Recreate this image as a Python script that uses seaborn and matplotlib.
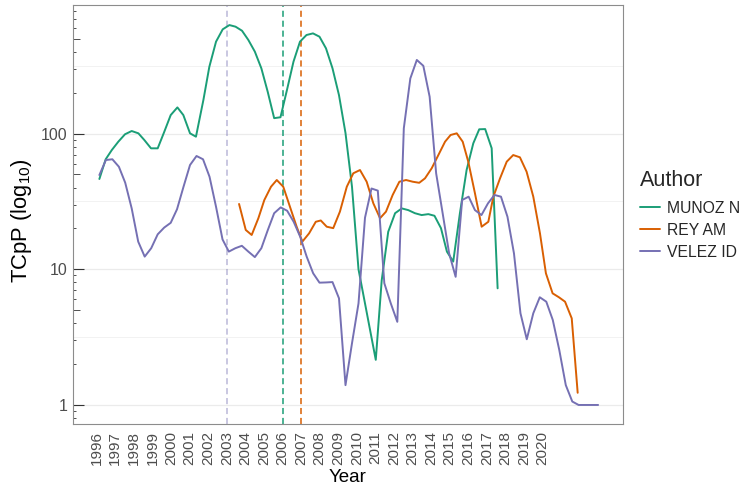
import numpy as np
import pandas as pd
import matplotlib
matplotlib.use("Agg")
import matplotlib.pyplot as plt
import seaborn as sns

# ---------------- data ----------------
authors = ["MUNOZ N", "REY AM", "VELEZ ID"]
colors = ["#1B9E77", "#D95F02", "#7570B3"]

munoz_years = [1996.14, 1996.48, 1996.81, 1997.16, 1997.52, 1997.88, 1998.24, 1998.56, 1998.92, 1999.28,
               1999.62, 1999.98, 2000.34, 2000.66, 2001.02, 2001.34, 2001.74, 2002.06, 2002.42, 2002.78,
               2003.14, 2003.47, 2003.82, 2004.16, 2004.51, 2004.86, 2005.20, 2005.55, 2005.89, 2006.24,
               2006.59, 2006.94, 2007.29, 2007.64, 2007.99, 2008.34, 2008.69, 2009.04, 2009.39, 2009.74,
               2010.09, 2011.02, 2011.34, 2011.69, 2012.06, 2012.42, 2012.77, 2013.13, 2013.49, 2013.85,
               2014.18, 2014.53, 2014.85, 2015.19, 2015.55, 2015.91, 2016.27, 2016.59, 2016.91, 2017.26,
               2017.58]
munoz_tcpp = [46.3, 64.7, 75.7, 87.2, 98.9, 104.5, 100.5, 89.7, 77.9, 77.9,
              102, 137, 156, 137, 100.5, 94.9, 177, 311, 476, 587,
              631, 614, 573, 490, 402, 303, 204, 130, 132, 210,
              339, 476, 533, 548, 518, 425, 303, 192, 101, 40.6,
              10.0, 2.15, 8.3, 18.9, 25.9, 28.1, 27.3, 25.9, 25.1, 25.5,
              24.8, 20.1, 13.5, 11.4, 25.9, 53.9, 84.8, 107.6, 108, 78,
              7.24]

rey_years = [2003.66, 2004.02, 2004.34, 2004.70, 2005.02, 2005.38, 2005.69, 2006.04, 2006.40, 2006.76,
             2007.07, 2007.43, 2007.79, 2008.06, 2008.38, 2008.73, 2009.09, 2009.46, 2009.81, 2010.17,
             2010.53, 2010.89, 2011.25, 2011.57, 2011.93, 2012.29, 2012.65, 2013.01, 2013.36, 2013.67,
             2014.03, 2014.39, 2014.75, 2015.05, 2015.38, 2015.70, 2016.00, 2016.36, 2016.72, 2017.08,
             2017.35, 2017.71, 2018.07, 2018.42, 2018.78, 2019.14, 2019.50, 2019.86, 2020.18, 2020.54,
             2020.88, 2021.21, 2021.57, 2021.89]
rey_tcpp = [30.3, 19.5, 17.9, 23.8, 32.4, 40.6, 45.5, 40.6, 28.9, 20.6,
            16.0, 18.4, 22.4, 22.9, 20.6, 20.1, 26.6, 40.6, 51, 53.9,
            44.2, 30.6, 23.8, 26.6, 35.3, 44.2, 45.5, 44.2, 43.4, 46.8,
            55.5, 69.5, 87.2, 97.7, 100.5, 87.2, 62.1, 36.3, 20.6, 22.4,
            34.3, 46.8, 62.1, 69.5, 66.9, 52.4, 34.3, 18.4, 9.34, 6.65,
            6.22, 5.77, 4.35, 1.23]

velez_years = [1996.14, 1996.49, 1996.84, 1997.19, 1997.53, 1997.88, 1998.23, 1998.58, 1998.93, 1999.28,
               1999.63, 1999.98, 2000.32, 2000.67, 2001.02, 2001.37, 2001.72, 2002.07, 2002.42, 2002.77,
               2003.11, 2003.46, 2003.81, 2004.16, 2004.51, 2004.86, 2005.21, 2005.55, 2005.90, 2006.25,
               2006.60, 2006.95, 2007.30, 2007.65, 2007.99, 2008.34, 2008.69, 2009.04, 2009.39, 2009.74,
               2010.09, 2010.44, 2010.79, 2011.13, 2011.48, 2011.83, 2012.18, 2012.53, 2012.88, 2013.23,
               2013.58, 2013.92, 2014.27, 2014.62, 2014.97, 2015.32, 2015.67, 2016.02, 2016.36, 2016.71,
               2017.06, 2017.41, 2017.76, 2018.11, 2018.46, 2018.81, 2019.15, 2019.50, 2019.85, 2020.20,
               2020.55, 2020.90, 2021.25, 2021.60, 2021.94, 2022.29, 2022.64, 2022.99]
velez_tcpp = [49.5, 63.9, 64.7, 57, 43.5, 28.1, 16.0, 12.4, 14.3, 18.1,
              20.3, 22.0, 27.7, 40.6, 58.7, 68.4, 64.7, 48.1, 28.9, 16.6,
              13.5, 14.3, 14.9, 13.5, 12.3, 14.3, 19.5, 25.9, 28.6, 27.0,
              22.4, 17.4, 12.4, 9.34, 7.97, 8.0, 8.05, 6.11, 1.40, 2.85,
              5.6, 24, 39.4, 38, 7.9, 5.6, 4.1, 109.5, 255, 349,
              316, 187, 51, 25.9, 13.1, 8.8, 32.4, 34.3, 27.3, 25.1,
              30.6, 35.3, 34.3, 24.4, 13.1, 4.74, 3.05, 4.74, 6.22, 5.77,
              4.23, 2.54, 1.40, 1.06, 1.0, 1.0, 1.0, 1.0]

# first-year markers (dashed vertical lines)
marker_authors = ["VELEZ ID", "MUNOZ N", "REY AM"]
marker_years = [2003, 2006, 2007]

year_ticks = list(range(1996, 2021))
y_ticks = [1, 10, 100]

# ---------------- build table ----------------
df = pd.concat([
    pd.DataFrame({"Year": munoz_years, "TCpP": munoz_tcpp, "Author": "MUNOZ N"}),
    pd.DataFrame({"Year": rey_years, "TCpP": rey_tcpp, "Author": "REY AM"}),
    pd.DataFrame({"Year": velez_years, "TCpP": velez_tcpp, "Author": "VELEZ ID"}),
], ignore_index=True)

sns.set_theme(style="white")
plt.rcParams["font.family"] = ["Liberation Sans", "DejaVu Sans"]
plt.rcParams["mathtext.fontset"] = "custom"
plt.rcParams["mathtext.rm"] = "Liberation Sans"
plt.rcParams["mathtext.it"] = "Liberation Sans:italic"
plt.rcParams["mathtext.default"] = "regular"

fig = plt.figure(figsize=(7.45, 4.88), dpi=100)
ax = fig.add_axes([73 / 745, 1 - 424 / 488, 550 / 745, 419 / 488])
ax.set_yscale("log")

# grid lines (major and half-decade minor, horizontal only)
for v in y_ticks:
    ax.axhline(v, color="#EBEBEB", lw=0.9, zorder=0)
for v in [10 ** 0.5, 10 ** 1.5, 10 ** 2.5]:
    ax.axhline(v, color="#F0F0F0", lw=0.6, zorder=0)

pal = dict(zip(authors, colors))
light = {"VELEZ ID": 0.5, "MUNOZ N": 1.0, "REY AM": 1.0}
for a, yr in zip(marker_authors, marker_years):
    ax.axvline(yr, color=pal[a], alpha=light[a], ls=(0, (4, 2.5)), lw=1.1, zorder=1)

sns.lineplot(data=df, x="Year", y="TCpP", hue="Author", hue_order=authors,
             palette=colors, estimator=None, sort=False, lw=1.4, ax=ax, zorder=3)

ax.set_xlim(1994.72, 2024.33)
ax.set_ylim(0.724, 887)

ax.set_xticks(year_ticks)
ax.set_xticklabels([str(y) for y in year_ticks], rotation=90, fontsize=11, color="#4D4D4D")
ax.set_yticks(y_ticks)
ax.set_yticklabels([str(v) for v in y_ticks], fontsize=11.5, color="#4D4D4D")
ax.set_yticks([0.8, 0.9, 2, 3, 4, 6, 7, 8, 9, 20, 30, 40, 60, 70, 80, 90,
               200, 300, 400, 600, 700, 800], minor=True)
ax.tick_params(axis="x", which="major", direction="out", length=3, width=0.8,
               color="#333333", pad=2)
ax.tick_params(axis="y", which="major", direction="out", length=2.2, width=0.8,
               color="#333333", pad=2)
ax.tick_params(axis="y", which="minor", direction="in", length=2.5, width=0.6,
               color="#333333", left=True, labelleft=False)

# long / medium inner log ticks
sec = ax.secondary_yaxis("left")
sec.set_yticks(y_ticks)
sec.set_yticks([5, 50, 500], minor=True)
sec.tick_params(which="major", direction="in", length=8, width=0.8, color="#333333", labelleft=False)
sec.tick_params(which="minor", direction="in", length=5, width=0.6, color="#333333", labelleft=False)
sec.spines["left"].set_visible(False)

for s in ax.spines.values():
    s.set_color("#8C8C8C")
    s.set_linewidth(0.8)

ax.set_xlabel("Year", fontsize=13.5, color="black", labelpad=3)
ax.set_ylabel("TCpP (log$_{10}$)", fontsize=15.8, color="black")
ax.yaxis.set_label_coords(-0.071, 0.485)

handles, labels = ax.get_legend_handles_labels()
leg = ax.legend(handles, labels, title="Author", loc="upper left",
                bbox_to_anchor=(640 / 745, 1 - 170 / 488), bbox_transform=fig.transFigure,
                frameon=False, fontsize=11.3, title_fontsize=15.5, handlelength=1.25,
                handletextpad=0.45, labelspacing=0.45, borderpad=0, borderaxespad=0,
                alignment="left")
leg._legend_box.sep = 7
for h in leg.get_lines():
    h.set_linewidth(1.4)

fig.savefig("out.png", dpi=100)
